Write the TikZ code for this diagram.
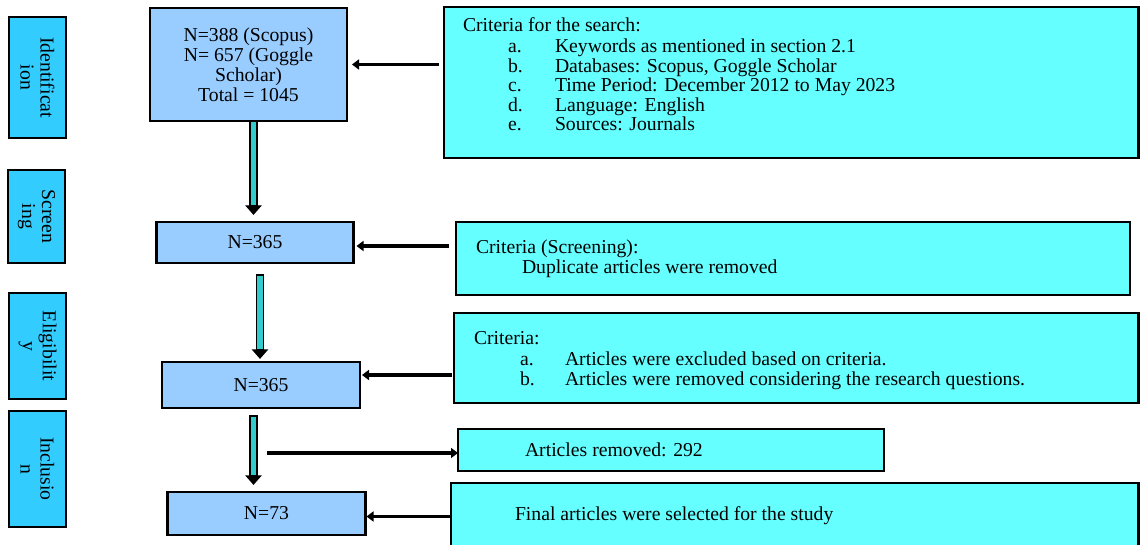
\documentclass[tikz,border=0pt]{standalone}
\usepackage{fontspec}
\setmainfont{Liberation Serif}
\usetikzlibrary{arrows.meta,calc}
\definecolor{stagec}{HTML}{33CCFF}
\definecolor{mainc}{HTML}{99CCFF}
\definecolor{critc}{HTML}{66FFFF}
\definecolor{arrc}{HTML}{33CCCC}
\newcommand\myfs{\fontsize{19.7}{20}\selectfont}
\tikzset{
  box/.style={draw, line width=2.2pt, inner sep=0pt, outer sep=0pt, font=\myfs},
  stage/.style={box, fill=stagec, align=center, rotate=-90},
  mainbox/.style={box, fill=mainc, align=center},
  crit/.style={box, fill=critc},
  txt/.style={anchor=base west, inner sep=0pt, outer sep=0pt, font=\myfs},
  blk/.style={line width=3.5pt, -{Triangle[length=7pt,width=10pt]}},
  dbl/.style={line width=1.8pt, fill=arrc, line join=miter},
  dblhead/.style={line width=1.2pt, fill=black, line join=miter}
}
\begin{document}
\begin{tikzpicture}[x=1pt,y=-1pt]
\useasboundingbox (0,0) rectangle (1140,545);
\clip (0,0) rectangle (1140,545);
% stage labels (rotated)
\node[stage, minimum width=121, minimum height=57] (s1) at (37.5,77.5) {Identificat\\ion};
\node[stage, minimum width=93, minimum height=57] (s2) at (36.5,216.5) {Screen\\ing};
\node[stage, minimum width=106, minimum height=57] (s3) at (37.5,346) {Eligibilit\\y};
\node[stage, minimum width=116, minimum height=57] (s4) at (37.5,469) {Inclusio\\n};
% main boxes
\node[mainbox, minimum width=197, minimum height=113] (b1) at (248.5,64.5)
  {N=388 (Scopus)\\N= 657 (Goggle\\Scholar)\\Total = 1045};
\node[mainbox, minimum width=197, minimum height=41] (b2) at (255,242.5) {N=365};
\node[mainbox, minimum width=198, minimum height=46] (b3) at (261,385) {N=365};
\node[mainbox, minimum width=198, minimum height=43] (b4) at (266.5,513.5) {N=73};
% criteria boxes
\node[crit, minimum width=694.5, minimum height=151] (c1) at (791.25,82.5) {};
\node[crit, minimum width=674, minimum height=73] (c2) at (793,258.5) {};
\node[crit, minimum width=684.5, minimum height=90] (c3) at (796.25,358) {};
\node[crit, minimum width=426, minimum height=42] (c4) at (671,450) {};
\node[crit, minimum width=687.5, minimum height=66] (c5) at (794.75,516) {};
% criteria texts
\node[txt] (t1) at (463,32) {Criteria for the search:};
\node[txt] (t1a) at (508,53) {a.};
\node[txt] (t1at) at (555,53) {Keywords as mentioned in section 2.1};
\node[txt] (t1b) at (508,72.5) {b.};
\node[txt] (t1bt) at (555,72.5) {Databases: Scopus, Goggle Scholar};
\node[txt] (t1c) at (508,92) {c.};
\node[txt] (t1ct) at (555,92) {Time Period: December 2012 to May 2023};
\node[txt] (t1d) at (508,111.5) {d.};
\node[txt] (t1dt) at (555,111.5) {Language: English};
\node[txt] (t1e) at (508,131) {e.};
\node[txt] (t1et) at (555,131) {Sources: Journals};
\node[txt] (t2) at (476,254) {Criteria (Screening):};
\node[txt] (t2a) at (522,274) {Duplicate articles were removed};
\node[txt] (t3) at (474,344) {Criteria:};
\node[txt] (t3a) at (520,365) {a.};
\node[txt] (t3at) at (565,365) {Articles were excluded based on criteria.};
\node[txt] (t3b) at (520,385) {b.};
\node[txt] (t3bt) at (565,385) {Articles were removed considering the research questions.};
\node[txt] (t4) at (525,456) {Articles removed: 292};
\node[txt] (t5) at (515,520) {Final articles were selected for the study};
% double arrows (shaft + head)
\coordinate (d1s) at ($(b1.south)+(5,0)$);
\coordinate (d1e) at ($(b2.north)+(-1.5,-8)$);
\coordinate (d2s) at ($(b2.south)+(5,12)$);
\coordinate (d2e) at ($(b3.north)+(-1,-4)$);
\coordinate (d3s) at ($(b3.south)+(-7.5,8)$);
\coordinate (d3e) at ($(b4.north)+(-13,-8)$);
\foreach \s/\e in {d1s/d1e, d2s/d2e, d3s/d3e}{
  \draw[dbl] ($(\s)+(-3.5,0)$) -- ($(\s|-\e)+(-3.5,-8)$)
    -- ($(\s|-\e)+(3.5,-8)$) -- ($(\s)+(3.5,0)$) -- cycle;
  \draw[dblhead] ($(\s|-\e)+(-7,-8)$) -- (\s|-\e) -- ($(\s|-\e)+(7,-8)$) -- cycle;
}
% black arrows
\draw[blk] ($(c1.west|-b1.east)+(-5,0)$) -- ($(b1.east)+(5,0)$);
\draw[blk] ($(c2.west|-b2.east)+(-7,3.5)$) -- ($(b2.east)+(3,3.5)$);
\draw[blk] ($(c3.west|-b3.east)+(-2,-10)$) -- ($(b3.east)+(2,-10)$);
\coordinate (a4s) at (267,453);
\draw[blk] (a4s) -- ($(c4.west)+(0,3)$);
\draw[blk] ($(c5.west|-b4.east)+(-1,3)$) -- ($(b4.east)+(1,3)$);
\end{tikzpicture}
\end{document}
